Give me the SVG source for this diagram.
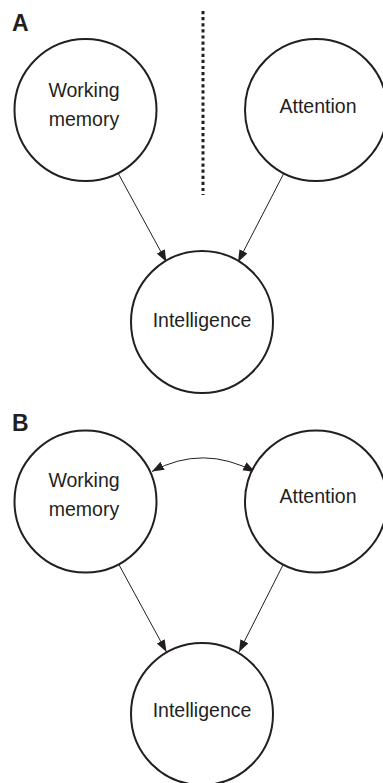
<svg xmlns="http://www.w3.org/2000/svg" width="383" height="783" viewBox="0 0 383 783">
  <style>
    .node { fill: #ffffff; stroke: #231f20; stroke-width: 2; }
    .lbl { font-family: "Liberation Sans", Arial, sans-serif; font-size: 19.5px; fill: #231f20; text-anchor: middle; }
    .panel { font-family: "Liberation Sans", Arial, sans-serif; font-size: 23px; font-weight: bold; fill: #231f20; }
    .edge { fill: none; stroke: #231f20; stroke-width: 1; }
    .divider { stroke: #231f20; stroke-width: 3; stroke-dasharray: 3.2 2.9; }
  </style>
  <defs>
    <marker id="arrow" markerUnits="userSpaceOnUse" markerWidth="13" markerHeight="10" refX="12" refY="4.5" orient="auto-start-reverse" viewBox="0 0 13 10">
      <path d="M0,0 L12,4.5 L0,9 z" fill="#231f20"/>
    </marker>
  </defs>

  <!-- Panel A -->
  <text class="panel" x="12" y="31">A</text>
  <line class="divider" x1="203" y1="11" x2="203" y2="195"/>

  <g id="connectors-a">
    <line class="edge" x1="118" y1="173" x2="166.5" y2="262" marker-end="url(#arrow)"/>
    <line class="edge" x1="284" y1="173" x2="238" y2="262" marker-end="url(#arrow)"/>
  </g>

  <g id="a-working-memory">
    <circle class="node" cx="85.5" cy="110" r="71"/>
    <text class="lbl" x="84" y="97">Working</text>
    <text class="lbl" x="84" y="126">memory</text>
  </g>
  <g id="a-attention">
    <circle class="node" cx="316" cy="110" r="71"/>
    <text class="lbl" x="318" y="113">Attention</text>
  </g>
  <g id="a-intelligence">
    <circle class="node" cx="202" cy="322" r="71"/>
    <text class="lbl" x="202" y="327">Intelligence</text>
  </g>

  <!-- Panel B -->
  <text class="panel" x="12" y="431">B</text>

  <g id="connectors-b">
    <path class="edge" d="M152,471.5 Q203,444 255,472" marker-start="url(#arrow)" marker-end="url(#arrow)"/>
    <line class="edge" x1="118" y1="563" x2="166.5" y2="652" marker-end="url(#arrow)"/>
    <line class="edge" x1="284" y1="563" x2="239" y2="652" marker-end="url(#arrow)"/>
  </g>

  <g id="b-working-memory">
    <circle class="node" cx="85.5" cy="501.5" r="71"/>
    <text class="lbl" x="84" y="487">Working</text>
    <text class="lbl" x="84" y="516">memory</text>
  </g>
  <g id="b-attention">
    <circle class="node" cx="316" cy="501.5" r="71"/>
    <text class="lbl" x="318" y="503">Attention</text>
  </g>
  <g id="b-intelligence">
    <circle class="node" cx="202" cy="714" r="71"/>
    <text class="lbl" x="202" y="717">Intelligence</text>
  </g>
</svg>
